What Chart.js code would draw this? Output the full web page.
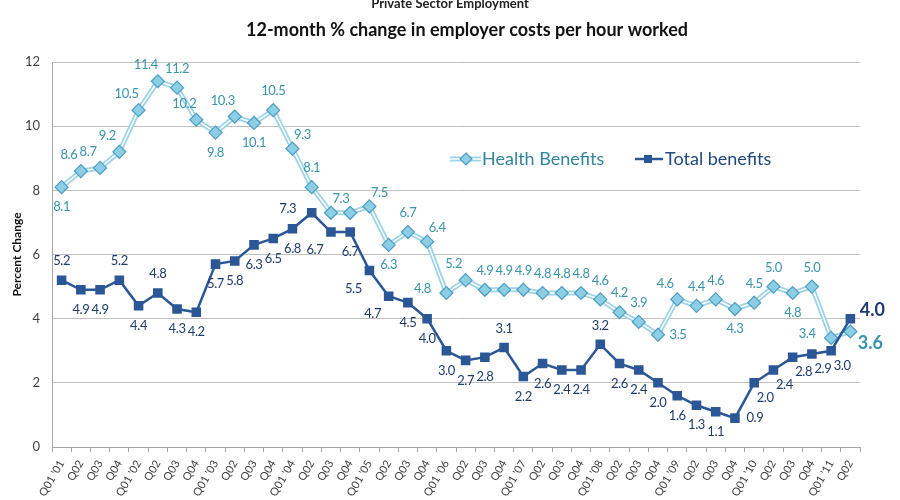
<!DOCTYPE html>
<html>
<head>
<meta charset="utf-8">
<script src="https://cdn.jsdelivr.net/npm/chart.js@4/dist/chart.umd.min.js"></script>
<style>
  html, body { margin: 0; padding: 0; background: #fff; }
</style>
</head>
<body>
<canvas id="myChart" width="900" height="500"></canvas>
<script>
const quarters = [
  "Q01 '01", "Q02", "Q03", "Q04", "Q01 '02", "Q02", "Q03", "Q04",
  "Q01 '03", "Q02", "Q03", "Q04", "Q01 '04", "Q02", "Q03", "Q04",
  "Q01 '05", "Q02", "Q03", "Q04", "Q01 '06", "Q02", "Q03", "Q04",
  "Q01 '07", "Q02", "Q03", "Q04", "Q01 '08", "Q02", "Q03", "Q04",
  "Q01 '09", "Q02", "Q03", "Q04", "Q01 '10", "Q02", "Q03", "Q04",
  "Q01 '11", "Q02",
];
const healthBenefits = [
  8.1, 8.6, 8.7, 9.2, 10.5, 11.4, 11.2, 10.2,
  9.8, 10.3, 10.1, 10.5, 9.3, 8.1, 7.3, 7.3,
  7.5, 6.3, 6.7, 6.4, 4.8, 5.2, 4.9, 4.9,
  4.9, 4.8, 4.8, 4.8, 4.6, 4.2, 3.9, 3.5,
  4.6, 4.4, 4.6, 4.3, 4.5, 5.0, 4.8, 5.0,
  3.4, 3.6,
];
const totalBenefits = [
  5.2, 4.9, 4.9, 5.2, 4.4, 4.8, 4.3, 4.2,
  5.7, 5.8, 6.3, 6.5, 6.8, 7.3, 6.7, 6.7,
  5.5, 4.7, 4.5, 4.0, 3.0, 2.7, 2.8, 3.1,
  2.2, 2.6, 2.4, 2.4, 3.2, 2.6, 2.4, 2.0,
  1.6, 1.3, 1.1, 0.9, 2.0, 2.4, 2.8, 2.9,
  3.0, 4.0,
];
const yTicks = [0, 2, 4, 6, 8, 10, 12];

// where each value label sits relative to its point
const healthPlace = [
  "b", "al", "al", "al", "al", "al", "a", "al",
  "b", "al", "b", "a", "ar", "a", "ar", "",
  "ar", "b", "a", "ar", "l", "al", "a", "a",
  "a", "a", "a", "a", "a", "a", "a", "r",
  "al", "a", "a", "b", "a", "a", "b", "a",
  "l", "big",
];
const totalPlace = [
  "a", "b", "b", "a", "b", "a", "b", "b",
  "b", "b", "b", "b", "b", "l", "bl", "b",
  "bl", "bl", "b", "b", "b", "b", "b", "a",
  "b", "b", "b", "b", "a", "b", "b", "b",
  "b", "b", "b", "r", "br", "br", "br", "br",
  "br", "big",
];
const offsets = {
  a: [0, -19], b: [0, 20], l: [-24, -4], r: [20, 0],
  al: [-12, -16], ar: [10, -14], bl: [-16, 18], br: [11, 15],
};

const healthColor = "#3a93ad";
const totalColor = "#1f3b6e";
const FONT = "Lato, 'Open Sans', sans-serif";

const labelPlugin = {
  id: "valueLabels",
  afterDatasetsDraw(chart) {
    const c = chart.ctx;
    const x = chart.scales.x;
    const y = chart.scales.y;
    c.save();
    c.textAlign = "center";
    c.textBaseline = "middle";
    const drawSet = (vals, places, color, bigDx, bigDy) => {
      for (let i = 0; i < vals.length; i++) {
        const p = places[i];
        if (!p) continue;
        const px = x.getPixelForValue(i);
        const py = y.getPixelForValue(vals[i]);
        c.fillStyle = color;
        if (p === "big") {
          c.letterSpacing = "0px";
          c.font = "bold 18px " + FONT;
          c.fillText(vals[i].toFixed(1), px + bigDx, py + bigDy);
        } else {
          const o = offsets[p];
          c.letterSpacing = "-0.4px";
          c.font = "13px " + FONT;
          c.fillText(vals[i].toFixed(1), px + o[0], py + o[1]);
        }
      }
    };
    drawSet(healthBenefits, healthPlace, healthColor, 20, 12);
    drawSet(totalBenefits, totalPlace, totalColor, 22, -8);
    c.restore();
  },
};

const decorPlugin = {
  id: "decor",
  afterDraw(chart) {
    const c = chart.ctx;
    c.save();
    c.textAlign = "center";
    c.textBaseline = "middle";
    c.fillStyle = "#222";
    c.font = "bold 13px " + FONT;
    c.fillText("Private Sector Employment", 450, 4);
    c.fillStyle = "#111";
    c.font = "bold 18px " + FONT;
    c.fillText("12-month % change in employer costs per hour worked", 467, 30);

    // legend
    const ly = 159;
    c.lineCap = "butt";
    c.strokeStyle = "#9bd3e8";
    c.lineWidth = 5;
    c.beginPath(); c.moveTo(450, ly); c.lineTo(481, ly); c.stroke();
    c.strokeStyle = "#fff";
    c.lineWidth = 1.5;
    c.beginPath(); c.moveTo(450, ly); c.lineTo(481, ly); c.stroke();
    c.fillStyle = "#8ccfe4";
    c.strokeStyle = "#4d9cc2";
    c.lineWidth = 1.2;
    c.beginPath();
    c.moveTo(466, ly - 6); c.lineTo(472, ly); c.lineTo(466, ly + 6); c.lineTo(460, ly);
    c.closePath(); c.fill(); c.stroke();
    c.textAlign = "left";
    c.font = "18px " + FONT;
    c.fillStyle = "#31849b";
    c.fillText("Health Benefits", 482, ly);

    c.strokeStyle = "#2b5797";
    c.lineWidth = 2.5;
    c.beginPath(); c.moveTo(635, ly); c.lineTo(663, ly); c.stroke();
    c.fillStyle = "#2b5797";
    c.fillRect(644, ly - 4, 8, 8);
    c.fillStyle = "#1f497d";
    c.fillText("Total benefits", 665, ly);
    c.restore();
  },
};

const ctx = document.getElementById("myChart").getContext("2d");
const myChart = new Chart(ctx, {
  type: "line",
  plugins: [labelPlugin, decorPlugin],
  data: {
    labels: quarters,
    datasets: [
      {
        label: "Health Benefits",
        data: healthBenefits,
        borderColor: "#9bd3e8",
        borderWidth: 5,
        pointRadius: 0,
        tension: 0,
        order: 5,
      },
      {
        label: "health inner",
        data: healthBenefits,
        borderColor: "#ffffff",
        borderWidth: 1.5,
        pointRadius: 0,
        tension: 0,
        order: 4,
      },
      {
        label: "health points",
        data: healthBenefits,
        showLine: false,
        pointStyle: "rectRot",
        pointRadius: 6.5,
        backgroundColor: "#8ccfe4",
        pointBorderColor: "#4d9cc2",
        pointBorderWidth: 1.2,
        order: 3,
      },
      {
        label: "Total benefits",
        data: totalBenefits,
        borderColor: "#2b5797",
        borderWidth: 2.5,
        pointStyle: "rect",
        pointRadius: 5,
        backgroundColor: "#2b5797",
        pointBorderColor: "#2b5797",
        tension: 0,
        order: 1,
      },
    ],
  },
  options: {
    responsive: false,
    animation: false,
    devicePixelRatio: 1,
    layout: { padding: { top: 62, right: 40, bottom: 0, left: 0 } },
    plugins: {
      legend: { display: false },
      tooltip: { enabled: false },
      title: { display: false },
    },
    scales: {
      x: {
        offset: true,
        grid: {
          offset: true,
          drawOnChartArea: false,
          drawTicks: true,
          tickLength: 5,
          color: "#a6a6a6",
        },
        border: { color: "#a6a6a6", width: 1 },
        ticks: {
          autoSkip: false,
          minRotation: 60,
          maxRotation: 60,
          padding: 6,
          color: "#404040",
          font: { family: FONT, size: 11 },
        },
        afterFit(scale) { scale.height = 53; },
      },
      y: {
        min: 0,
        max: 12,
        afterBuildTicks(scale) { scale.ticks = yTicks.map((v) => ({ value: v })); },
        grid: { color: "#c0c0c0", drawTicks: false },
        border: { color: "#a6a6a6", width: 1 },
        ticks: {
          padding: 12,
          color: "#404040",
          font: { family: FONT, size: 13 },
        },
        title: {
          display: true,
          text: "Percent Change",
          color: "#111",
          font: { family: FONT, size: 12, weight: "bold" },
          padding: { top: 10, bottom: 0 },
        },
        afterFit(scale) { scale.width = 52; },
      },
    },
  },
});
</script>
</body>
</html>
